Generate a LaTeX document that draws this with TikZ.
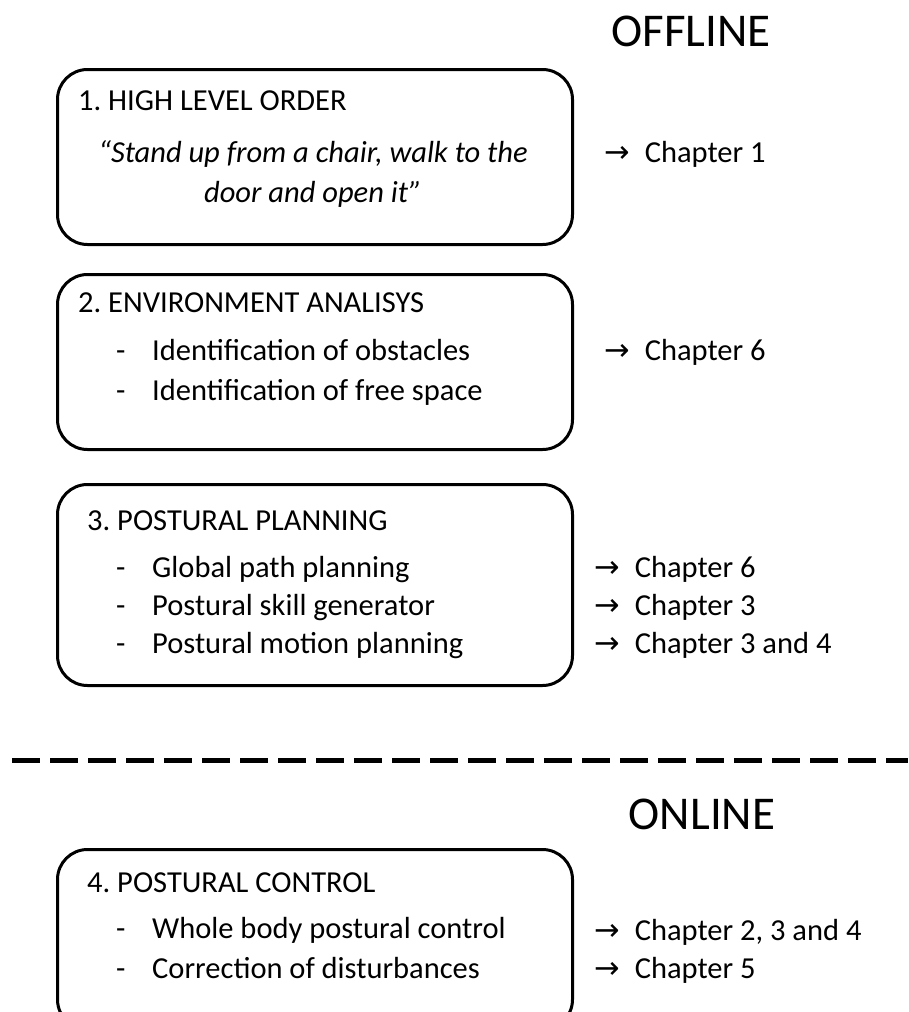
\documentclass[tikz,border=0pt]{standalone}
\usepackage{fontspec}
\setmainfont{Carlito}
\newfontfamily\arrowfont{DejaVu Sans}
\frenchspacing
\begin{document}
\begin{tikzpicture}[x=1pt,y=-1pt,
  stagebox/.style={draw, line width=3pt, rounded corners=30pt, minimum width=515pt, anchor=north west, inner sep=0pt},
  body/.style={font=\fontsize{30.5}{40}\selectfont, inner sep=0pt, anchor=base west},
  title/.style={font=\fontsize{47}{52}\selectfont, inner sep=0pt},
  chap/.style={font=\fontsize{30.5}{40}\selectfont, inner sep=0pt, anchor=base west},
  sep/.style={line width=5pt, dash pattern=on 28pt off 10pt}]
\newcommand{\chapto}{{\arrowfont →}\hspace{15pt}}
\useasboundingbox (0,0) rectangle (908,1012);
\node[title] (offline) at (691,31) {OFFLINE};
\node[title] (online) at (702,814) {ONLINE};
% boxes
\node[stagebox, minimum height=175pt] (b1) at (56,68) {};
\node[stagebox, minimum height=175pt] (b2) at (56,273) {};
\node[stagebox, minimum height=201pt] (b3) at (56,483) {};
\node[stagebox, minimum height=180pt] (b4) at (56,848) {};
% box 1
\node[body] (t1) at (78,110) {1. HIGH LEVEL ORDER};
\node[font=\fontsize{30.5}{40}\selectfont\itshape, align=center, inner sep=0pt, anchor=base] (q1) at (313,202) {“Stand up from a chair, walk to the\\ door and open it”};
\node[chap] (c1) at (604,162) {\chapto Chapter 1};
% box 2
\node[body] (t2) at (78,312) {2. ENVIRONMENT ANALISYS};
\node[body] (d21) at (116,360) {-};
\node[body] (l21) at (152,360) {Identification of obstacles};
\node[body] (d22) at (116,400) {-};
\node[body] (l22) at (152,400) {Identification of free space};
\node[chap] (c2) at (604,360) {\chapto Chapter 6};
% box 3
\node[body] (t3) at (87,530) {3. POSTURAL PLANNING};
\node[body] (d31) at (116,577) {-};
\node[body] (l31) at (152,577) {Global path planning};
\node[body] (d32) at (116,615) {-};
\node[body] (l32) at (152,615) {Postural skill generator};
\node[body] (d33) at (116,653) {-};
\node[body] (l33) at (152,653) {Postural motion planning};
\node[chap] (c31) at (594,577) {\chapto Chapter 6};
\node[chap] (c32) at (594,615) {\chapto Chapter 3};
\node[chap] (c33) at (594,653) {\chapto Chapter 3 and 4};
% separator
\coordinate (sepL) at (12,760);
\coordinate (sepR) at (908,760);
\draw[sep] (sepL) -- (sepR);
% box 4
\node[body] (t4) at (87,892) {4. POSTURAL CONTROL};
\node[body] (d41) at (116,938) {-};
\node[body] (l41) at (152,938) {Whole body postural control};
\node[body] (d42) at (116,978) {-};
\node[body] (l42) at (152,978) {Correction of disturbances};
\node[chap] (c41) at (594,940) {\chapto Chapter 2, 3 and 4};
\node[chap] (c42) at (594,978) {\chapto Chapter 5};
\end{tikzpicture}
\end{document}
